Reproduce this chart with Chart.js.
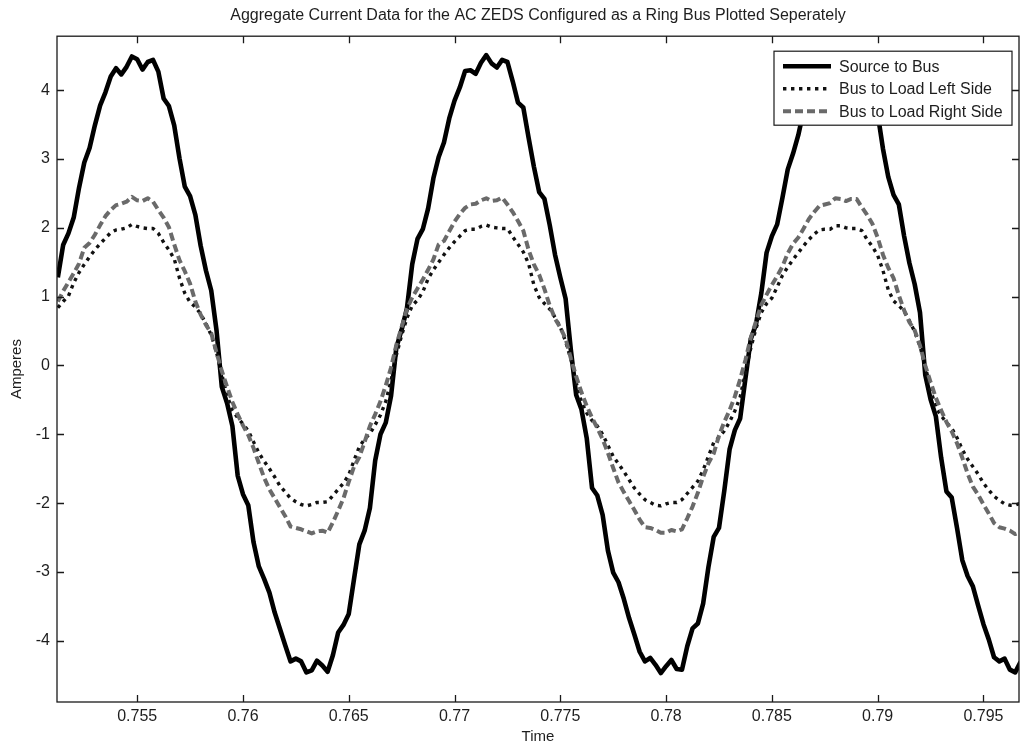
<!DOCTYPE html>
<html lang="en">
<head>
<meta charset="UTF-8">
<title>Aggregate Current Data for the AC ZEDS</title>
<script src="https://cdn.jsdelivr.net/npm/chart.js"></script>
<style>
  html, body { margin: 0; padding: 0; background: #fff; }
  canvas { display: block; }
</style>
</head>
<body>
<canvas id="currentChart" width="1021" height="747"></canvas>
<script>
  // sample times (s), one every 0.25 ms
  const timeS = [
    0.75125, 0.7515, 0.75175, 0.752, 0.75225, 0.7525, 0.75275, 0.753, 0.75325, 0.7535, 0.75375, 0.754,
    0.75425, 0.7545, 0.75475, 0.755, 0.75525, 0.7555, 0.75575, 0.756, 0.75625, 0.7565, 0.75675, 0.757,
    0.75725, 0.7575, 0.75775, 0.758, 0.75825, 0.7585, 0.75875, 0.759, 0.75925, 0.7595, 0.75975, 0.76,
    0.76025, 0.7605, 0.76075, 0.761, 0.76125, 0.7615, 0.76175, 0.762, 0.76225, 0.7625, 0.76275, 0.763,
    0.76325, 0.7635, 0.76375, 0.764, 0.76425, 0.7645, 0.76475, 0.765, 0.76525, 0.7655, 0.76575, 0.766,
    0.76625, 0.7665, 0.76675, 0.767, 0.76725, 0.7675, 0.76775, 0.768, 0.76825, 0.7685, 0.76875, 0.769,
    0.76925, 0.7695, 0.76975, 0.77, 0.77025, 0.7705, 0.77075, 0.771, 0.77125, 0.7715, 0.77175, 0.772,
    0.77225, 0.7725, 0.77275, 0.773, 0.77325, 0.7735, 0.77375, 0.774, 0.77425, 0.7745, 0.77475, 0.775,
    0.77525, 0.7755, 0.77575, 0.776, 0.77625, 0.7765, 0.77675, 0.777, 0.77725, 0.7775, 0.77775, 0.778,
    0.77825, 0.7785, 0.77875, 0.779, 0.77925, 0.7795, 0.77975, 0.78, 0.78025, 0.7805, 0.78075, 0.781,
    0.78125, 0.7815, 0.78175, 0.782, 0.78225, 0.7825, 0.78275, 0.783, 0.78325, 0.7835, 0.78375, 0.784,
    0.78425, 0.7845, 0.78475, 0.785, 0.78525, 0.7855, 0.78575, 0.786, 0.78625, 0.7865, 0.78675, 0.787,
    0.78725, 0.7875, 0.78775, 0.788, 0.78825, 0.7885, 0.78875, 0.789, 0.78925, 0.7895, 0.78975, 0.79,
    0.79025, 0.7905, 0.79075, 0.791, 0.79125, 0.7915, 0.79175, 0.792, 0.79225, 0.7925, 0.79275, 0.793,
    0.79325, 0.7935, 0.79375, 0.794, 0.79425, 0.7945, 0.79475, 0.795, 0.79525, 0.7955, 0.79575, 0.796,
    0.79625, 0.7965, 0.79675
  ];

  // amperes
  const sourceToBus = [
    1.28, 1.75, 1.92, 2.15, 2.58, 2.95, 3.16, 3.49, 3.78, 3.97,
    4.20, 4.32, 4.23, 4.34, 4.49, 4.45, 4.30, 4.41, 4.44, 4.27,
    3.88, 3.77, 3.49, 3.01, 2.60, 2.46, 2.19, 1.74, 1.38, 1.09,
    0.51, -0.31, -0.55, -0.88, -1.60, -1.87, -2.03, -2.57, -2.92, -3.10,
    -3.30, -3.59, -3.83, -4.07, -4.30, -4.26, -4.30, -4.46, -4.43, -4.29,
    -4.36, -4.45, -4.21, -3.88, -3.77, -3.61, -3.10, -2.60, -2.40, -2.07,
    -1.38, -1.00, -0.83, -0.44,
    0.26, 0.52, 0.83, 1.47, 1.84, 1.98, 2.28, 2.72, 3.03, 3.24,
    3.59, 3.85, 4.04, 4.28, 4.29, 4.24, 4.40, 4.51, 4.39, 4.33,
    4.44, 4.41, 4.13, 3.82, 3.75, 3.31, 2.89, 2.52, 2.42, 2.04,
    1.61, 1.28, 0.97, 0.22, -0.43, -0.64, -1.06, -1.78, -1.89, -2.17,
    -2.69, -3.01, -3.15, -3.39, -3.67, -3.91, -4.16, -4.30, -4.25, -4.35,
    -4.47, -4.37, -4.28, -4.41, -4.42, -4.08, -3.82, -3.75, -3.46, -2.93,
    -2.49, -2.36, -1.82, -1.22, -0.94, -0.77, -0.19,
    0.38, 0.60, 1.05, 1.64, 1.88, 2.05, 2.44, 2.85, 3.08, 3.35,
    3.70, 3.91, 4.11, 4.33, 4.24, 4.29, 4.45, 4.49, 4.33, 4.37,
    4.45, 4.34, 4.00, 3.78, 3.66, 3.15, 2.74, 2.48, 2.34, 1.88,
    1.49, 1.18, 0.77, -0.14, -0.49, -0.74, -1.34, -1.83, -1.92, -2.36,
    -2.83, -3.06, -3.21, -3.49, -3.76, -3.98, -4.24, -4.30, -4.26, -4.42,
    -4.46, -4.31
  ];

  const loadLeft = [
    0.84, 0.93, 1.01, 1.20, 1.35, 1.47, 1.58, 1.68, 1.77, 1.85,
    1.93, 1.97, 1.98, 2.00, 2.05, 2.02, 2.00, 1.99, 1.99, 1.92,
    1.79, 1.68, 1.55, 1.27, 1.05, 0.92, 0.85, 0.75, 0.61, 0.44,
    0.19, -0.13, -0.44, -0.65, -0.76, -0.85, -0.95, -1.11, -1.27, -1.39,
    -1.50, -1.62, -1.75, -1.84, -1.93, -1.98, -2.02, -2.04, -2.02, -1.99,
    -1.99, -1.98, -1.89, -1.80, -1.71, -1.59, -1.38, -1.18, -1.07, -0.99,
    -0.86, -0.72, -0.52, -0.22,
    0.15, 0.44, 0.69, 0.87, 0.95, 1.07, 1.26, 1.39, 1.50, 1.61,
    1.71, 1.80, 1.88, 1.96, 1.98, 1.98, 2.02, 2.04, 2.01, 2.00,
    1.99, 1.99, 1.87, 1.76, 1.65, 1.48, 1.17, 0.99, 0.90, 0.82,
    0.70, 0.56, 0.35, 0.09, -0.25, -0.53, -0.69, -0.80, -0.88, -1.00,
    -1.16, -1.32, -1.43, -1.54, -1.66, -1.78, -1.87, -1.95, -1.99, -2.03,
    -2.04, -2.01, -1.99, -1.99, -1.95, -1.86, -1.77, -1.68, -1.52, -1.32,
    -1.12, -1.04, -0.95, -0.82, -0.66, -0.46, -0.10,
    0.25, 0.54, 0.77, 0.90, 0.98, 1.14, 1.31, 1.43, 1.54, 1.64,
    1.74, 1.83, 1.91, 1.97, 1.98, 1.98, 2.03, 2.03, 2.00, 1.99,
    1.99, 1.96, 1.83, 1.73, 1.60, 1.38, 1.10, 0.94, 0.87, 0.79,
    0.65, 0.49, 0.28, -0.01, -0.35, -0.61, -0.73, -0.83, -0.91, -1.05,
    -1.22, -1.36, -1.47, -1.58, -1.71, -1.81, -1.90, -1.96, -2.01, -2.03,
    -2.03, -2.00
  ];

  const loadRight = [
    0.93, 1.08, 1.21, 1.34, 1.48, 1.71, 1.78, 1.90, 2.04, 2.17,
    2.26, 2.33, 2.35, 2.38, 2.45, 2.40, 2.39, 2.43, 2.38, 2.26,
    2.15, 2.01, 1.76, 1.53, 1.37, 1.19, 0.93, 0.74, 0.59, 0.47,
    0.19, -0.08, -0.31, -0.53, -0.71, -0.87, -1.01, -1.20, -1.42, -1.63,
    -1.80, -1.93, -2.06, -2.19, -2.34, -2.36, -2.38, -2.41, -2.44, -2.41,
    -2.40, -2.43, -2.28, -2.11, -1.93, -1.69, -1.47, -1.33, -1.11, -0.88,
    -0.71, -0.52, -0.29, -0.03,
    0.30, 0.56, 0.82, 0.99, 1.12, 1.25, 1.39, 1.54, 1.76, 1.81,
    1.95, 2.09, 2.20, 2.29, 2.34, 2.35, 2.40, 2.43, 2.39, 2.40,
    2.44, 2.34, 2.23, 2.10, 1.96, 1.68, 1.47, 1.32, 1.11, 0.87,
    0.68, 0.55, 0.39, 0.10, -0.16, -0.39, -0.59, -0.76, -0.91, -1.07,
    -1.27, -1.49, -1.70, -1.84, -1.97, -2.10, -2.24, -2.35, -2.36, -2.39,
    -2.43, -2.43, -2.39, -2.41, -2.38, -2.22, -2.05, -1.85, -1.62, -1.42,
    -1.28, -1.02, -0.82, -0.65, -0.45, -0.20, 0.08,
    0.40, 0.64, 0.88, 1.03, 1.17, 1.30, 1.44, 1.63, 1.77, 1.86,
    1.99, 2.13, 2.23, 2.32, 2.34, 2.36, 2.43, 2.42, 2.39, 2.42,
    2.42, 2.30, 2.19, 2.06, 1.86, 1.61, 1.42, 1.27, 1.02, 0.80,
    0.63, 0.51, 0.29, 0.00, -0.24, -0.47, -0.65, -0.82, -0.96, -1.13,
    -1.34, -1.57, -1.76, -1.88, -2.02, -2.15, -2.29, -2.35, -2.37, -2.40,
    -2.45, -2.42
  ];

  const xTicks = [0.755, 0.76, 0.765, 0.77, 0.775, 0.78, 0.785, 0.79, 0.795];
  const xTickLabels = ['0.755', '0.76', '0.765', '0.77', '0.775', '0.78', '0.785', '0.79', '0.795'];
  const yTicks = [-4, -3, -2, -1, 0, 1, 2, 3, 4];
  const yTickLabels = ['-4', '-3', '-2', '-1', '0', '1', '2', '3', '4'];
  const seriesNames = ['Source to Bus', 'Bus to Load Left Side', 'Bus to Load Right Side'];

  const FONT = "'Liberation Sans', Arial, Helvetica, sans-serif";
  const TEXT = '#1e1e1e';

  function points(values) {
    return timeS.map((t, i) => ({ x: t, y: values[i] }));
  }

  // matlab style box: frame, inward ticks on all four sides, legend inside top right
  const axesBox = {
    id: 'axesBox',
    afterDatasetsDraw(chart) {
      const { ctx, chartArea: a, scales } = chart;
      ctx.save();
      ctx.setLineDash([]);
      ctx.strokeStyle = '#1a1a1a';
      ctx.lineWidth = 1.3;
      ctx.strokeRect(a.left, a.top, a.right - a.left, a.bottom - a.top);
      ctx.beginPath();
      xTicks.forEach(v => {
        const px = Math.round(scales.x.getPixelForValue(v)) + 0.5;
        ctx.moveTo(px, a.bottom); ctx.lineTo(px, a.bottom - 7);
        ctx.moveTo(px, a.top); ctx.lineTo(px, a.top + 7);
      });
      yTicks.forEach(v => {
        const py = Math.round(scales.y.getPixelForValue(v)) + 0.5;
        ctx.moveTo(a.left, py); ctx.lineTo(a.left + 7, py);
        ctx.moveTo(a.right, py); ctx.lineTo(a.right - 7, py);
      });
      ctx.stroke();

      const w = 238, h = 74;
      const bx = a.right - 7 - w, by = a.top + 15;
      ctx.fillStyle = '#fff';
      ctx.fillRect(bx, by, w, h);
      ctx.lineWidth = 1.2;
      ctx.strokeRect(bx, by, w, h);
      ctx.font = '16px ' + FONT;
      ctx.textBaseline = 'middle';
      ctx.textAlign = 'left';
      chart.data.datasets.forEach((ds, i) => {
        const ly = by + 15 + i * 22.5;
        ctx.strokeStyle = ds.borderColor;
        ctx.lineWidth = ds.borderWidth;
        ctx.setLineDash(ds.borderDash || []);
        ctx.beginPath();
        ctx.moveTo(bx + 9, ly);
        ctx.lineTo(bx + 57, ly);
        ctx.stroke();
        ctx.fillStyle = TEXT;
        ctx.fillText(ds.label, bx + 65, ly + 1);
      });
      ctx.restore();
    }
  };

  new Chart(document.getElementById('currentChart'), {
    type: 'line',
    data: {
      datasets: [
        { label: seriesNames[0], data: points(sourceToBus), borderColor: '#000', borderWidth: 4.6, borderDash: [], order: 3 },
        { label: seriesNames[1], data: points(loadLeft), borderColor: '#111', borderWidth: 3.4, borderDash: [3.4, 4.6], order: 2 },
        { label: seriesNames[2], data: points(loadRight), borderColor: '#6a6a6a', borderWidth: 4, borderDash: [8, 4], order: 1 }
      ]
    },
    options: {
      responsive: false,
      animation: false,
      devicePixelRatio: 1,
      layout: { padding: { left: 0, right: 2, top: 0, bottom: 0 } },
      elements: {
        point: { radius: 0, hoverRadius: 0 },
        line: { tension: 0, borderJoinStyle: 'round', fill: false }
      },
      plugins: {
        legend: { display: false },
        tooltip: { enabled: false },
        title: {
          display: true,
          fullSize: false,
          text: 'Aggregate Current Data for the AC ZEDS Configured as a Ring Bus Plotted Seperately',
          color: TEXT,
          font: { family: FONT, size: 16, weight: 'normal' },
          padding: { top: 6, bottom: 11 }
        }
      },
      scales: {
        x: {
          type: 'linear',
          min: 0.75121,
          max: 0.79668,
          grid: { display: false, drawTicks: false },
          border: { display: false },
          afterBuildTicks: s => { s.ticks = xTicks.map(v => ({ value: v })); },
          afterFit: s => { s.height = 45; },
          ticks: {
            autoSkip: false,
            maxRotation: 0,
            padding: 5,
            color: TEXT,
            font: { family: FONT, size: 16 },
            callback: (v, i) => xTickLabels[i]
          },
          title: {
            display: true,
            text: 'Time',
            color: TEXT,
            font: { family: FONT, size: 15 },
            padding: { top: 0, bottom: 1 }
          }
        },
        y: {
          min: -4.89,
          max: 4.785,
          grid: { display: false, drawTicks: false },
          border: { display: false },
          afterBuildTicks: s => { s.ticks = yTicks.map(v => ({ value: v })); },
          afterFit: s => { s.width = 57; },
          ticks: {
            padding: 7,
            color: TEXT,
            font: { family: FONT, size: 16 },
            callback: (v, i) => yTickLabels[i]
          },
          title: {
            display: true,
            text: 'Amperes',
            color: TEXT,
            font: { family: FONT, size: 15 },
            padding: { top: 8, bottom: 0 }
          }
        }
      }
    },
    plugins: [axesBox]
  });
</script>
</body>
</html>
